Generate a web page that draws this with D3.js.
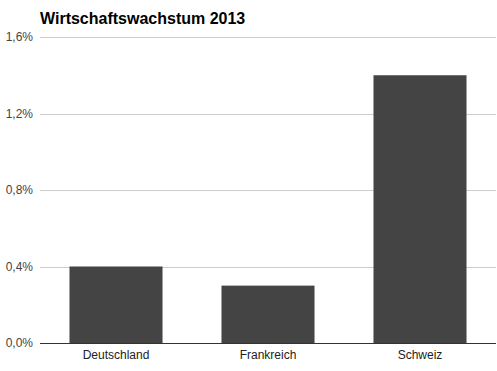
<!DOCTYPE html>
<html><head><meta charset="utf-8">
<script src="https://cdn.jsdelivr.net/npm/d3@7"></script>
<style>body{margin:0;background:#fff}svg{display:block}text{font-family:Arial,"Liberation Sans",sans-serif}</style>
</head><body><svg id="c" width="497" height="371"></svg>
<script>
const categories = ["Deutschland", "Frankreich", "Schweiz"];
const values = [0.4, 0.3, 1.4];
const yTicks = [0, 0.4, 0.8, 1.2, 1.6];
const title = "Wirtschaftswachstum 2013";

(function () {
const svg = d3.select("#c");
const mLeft = 40, mRight = 496, mTop = 37, mBottom = 343;
const x = d3.scaleBand().domain(categories).range([mLeft, mRight]).paddingInner(0.388).paddingOuter(0.194);
const y = d3.scaleLinear().domain([0, 1.6]).range([mBottom, mTop]);
const fmt = v => v.toFixed(1).replace(".", ",") + "%";

svg.append("text").attr("x", 40).attr("y", 24).attr("font-size", 16).attr("font-weight", "bold").attr("fill", "#000").text(title);

const yAxis = d3.axisLeft(y).tickValues(yTicks).tickFormat(fmt).tickSize(-(mRight - mLeft)).tickPadding(7);
const gy = svg.append("g").attr("transform", `translate(${mLeft},0)`).call(yAxis);
gy.select(".domain").remove();
gy.selectAll(".tick line").attr("stroke", "#ccc").attr("shape-rendering", "crispEdges");
gy.selectAll(".tick text").attr("font-size", 12).attr("fill", "#444").attr("font-family", "Arial, 'Liberation Sans', sans-serif");

svg.append("g").selectAll("rect").data(values).join("rect")
  .attr("x", (d, i) => x(categories[i])).attr("width", x.bandwidth())
  .attr("y", d => y(d)).attr("height", d => y(0) - y(d)).attr("fill", "#444");

const xAxis = d3.axisBottom(x).tickSize(0).tickPadding(7);
const gx = svg.append("g").attr("transform", `translate(0,${mBottom})`).call(xAxis);
gx.select(".domain").remove();
gx.selectAll(".tick text").attr("font-size", 12).attr("fill", "#222").attr("font-family", "Arial, 'Liberation Sans', sans-serif");

svg.append("line").attr("x1", mLeft).attr("x2", mRight).attr("y1", y(0)).attr("y2", y(0)).attr("stroke", "#333").attr("shape-rendering", "crispEdges");
})();
</script></body></html>
